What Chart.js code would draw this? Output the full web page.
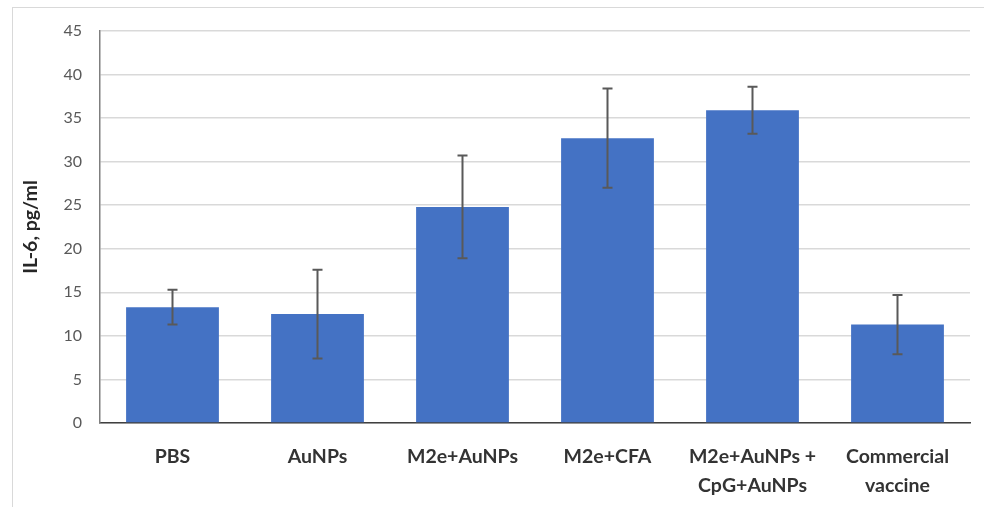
<!DOCTYPE html>
<html>
<head>
<meta charset="utf-8">
<script src="https://cdn.jsdelivr.net/npm/chart.js@4/dist/chart.umd.min.js"></script>
<style>
  html, body { margin: 0; padding: 0; background: #fff; overflow: hidden; }
  #wrap { position: relative; width: 984px; height: 507px; }
  #frame { position: absolute; left: 12px; top: 7px; width: 1000px; height: 520px; border: 1px solid #d9d9d9; box-sizing: border-box; }
  canvas { position: absolute; left: 0; top: 0; }
</style>
</head>
<body>
<div id="wrap">
  <div id="frame"></div>
  <canvas id="c" width="984" height="507"></canvas>
</div>
<script>
const categories = ['PBS', 'AuNPs', 'M2e+AuNPs', 'M2e+CFA', ['M2e+AuNPs +', 'CpG+AuNPs'], ['Commercial', 'vaccine']];
const il6Means = [13.3, 12.5, 24.8, 32.7, 35.9, 11.3];
const il6Errors = [2.0, 5.1, 5.9, 5.7, 2.7, 3.4];
const yTickMax = 45;
const yTickStep = 5;
const yTitle = 'IL-6, pg/ml';

const errorBarPlugin = {
  id: 'errorBars',
  afterDatasetsDraw(chart) {
    const ctx = chart.ctx;
    const yScale = chart.scales.y;
    const meta = chart.getDatasetMeta(0);
    ctx.save();
    ctx.strokeStyle = '#595959';
    ctx.lineWidth = 2;
    meta.data.forEach((bar, i) => {
      const m = il6Means[i], e = il6Errors[i];
      const yHi = yScale.getPixelForValue(m + e);
      const yLo = yScale.getPixelForValue(m - e);
      const x = bar.x;
      ctx.beginPath();
      ctx.moveTo(x, yHi); ctx.lineTo(x, yLo);
      ctx.moveTo(x - 5, yHi); ctx.lineTo(x + 5, yHi);
      ctx.moveTo(x - 5, yLo); ctx.lineTo(x + 5, yLo);
      ctx.stroke();
    });
    ctx.restore();
  }
};

new Chart(document.getElementById('c'), {
  type: 'bar',
  data: {
    labels: categories,
    datasets: [{
      data: il6Means,
      backgroundColor: '#4472C4',
      borderWidth: 0,
      barPercentage: 0.64,
      categoryPercentage: 1.0
    }]
  },
  options: {
    responsive: false,
    animation: false,
    layout: { padding: { top: 31, right: 14, left: 0, bottom: 0 } },
    plugins: { legend: { display: false }, tooltip: { enabled: false } },
    scales: {
      x: {
        grid: { display: false },
        border: { display: true, color: '#404040', width: 1.5 },
        ticks: {
          color: '#333333',
          font: { family: 'Lato', size: 19.5, weight: 'bold', lineHeight: '29px' },
          padding: 11,
          maxRotation: 0,
          autoSkip: false
        },
        afterFit(scale) { scale.height = 84; }
      },
      y: {
        min: 0,
        max: yTickMax,
        grid: { color: '#d9d9d9', lineWidth: 1.5, drawTicks: false },
        border: { display: true, color: '#7f7f7f', width: 1.5 },
        ticks: {
          stepSize: yTickStep,
          color: '#595959',
          font: { family: 'Lato', size: 16 },
          padding: 18
        },
        title: {
          display: true,
          text: yTitle,
          color: '#262626',
          font: { family: 'Lato', size: 19.5, weight: 'bold' },
          padding: { top: 19, bottom: 0 }
        },
        afterFit(scale) { scale.width = 100; }
      }
    }
  },
  plugins: [errorBarPlugin]
});
</script>
</body>
</html>
